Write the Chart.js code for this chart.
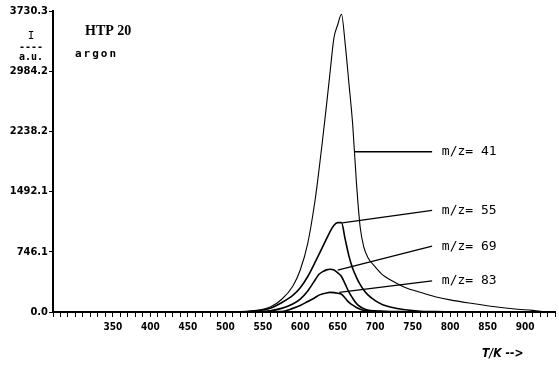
<!DOCTYPE html>
<html>
<head>
<meta charset="utf-8">
<script src="https://cdn.jsdelivr.net/npm/chart.js@4.4.1/dist/chart.umd.min.js"></script>
<style>
  html, body { margin: 0; padding: 0; background: #fff; }
  #wrap { width: 559px; height: 366px; }
</style>
</head>
<body>
<div id="wrap"><canvas id="chart" width="559" height="366"></canvas></div>
<script>
// temperature grid (K) shared by all curves
const temps = [500, 530, 560, 575, 590, 600, 610, 620, 625, 630, 635, 640, 645, 650, 655, 660, 665, 670, 675, 680, 685, 690, 700, 710, 720, 740, 760, 780, 800, 830, 860, 890, 910, 920, 930];

// intensities (a.u.)
const mz41 = [5, 10, 62, 155, 320, 520, 850, 1400, 1760, 2150, 2560, 2990, 3400, 3560, 3690, 3320, 2830, 2320, 1600, 1050, 800, 680, 560, 460, 400, 305, 245, 190, 150, 105, 65, 35, 20, 8, 0];
const mz55 = [3, 6, 46, 115, 205, 300, 440, 620, 715, 810, 905, 1000, 1075, 1108, 1108, 900, 693, 540, 430, 340, 270, 215, 140, 90, 62, 28, 10, 5, 3, 0, 0, 0, 0, 0, 0];
const mz69 = [2, 4, 16, 45, 100, 160, 260, 400, 468, 500, 522, 529, 520, 485, 440, 345, 246, 170, 105, 65, 40, 25, 14, 10, 7, 4, 2, 1, 0, 0, 0, 0, 0, 0, 0];
const mz83 = [1, 2, 3, 5, 45, 80, 130, 180, 209, 225, 236, 243, 240, 232, 220, 170, 119, 85, 55, 35, 20, 14, 8, 5, 3, 2, 1, 0, 0, 0, 0, 0, 0, 0, 0];

const yTicks = [0.0, 746.1, 1492.1, 2238.2, 2984.2, 3730.3];
const xLabels = [350, 400, 450, 500, 550, 600, 650, 700, 750, 800, 850, 900];

// label leaders: start on curve -> end at text
const labelNames = ['m/z= 41', 'm/z= 55', 'm/z= 69', 'm/z= 83'];
const leaderStart = [[673, 1986], [656, 1104], [650, 520], [652, 243]];
const leaderEnd = [[776, 1986], [776, 1259], [776, 816], [776, 385]];
const labelT = 789;

const toPoints = vals => temps.map((t, i) => ({ x: t, y: vals[i] }));

const curve = (vals, w) => ({
    data: toPoints(vals),
    borderColor: '#000',
    borderWidth: w,
    pointRadius: 0,
    cubicInterpolationMode: 'monotone',
    fill: false
});

const leaders = leaderStart.map((s, i) => ({
    data: [{ x: s[0], y: s[1] }, { x: leaderEnd[i][0], y: leaderEnd[i][1] }],
    borderColor: '#000',
    borderWidth: 1.3,
    pointRadius: 0
}));

// texts that are not axes: title, unit, labels
const textPlugin = {
    id: 'texts',
    afterDraw(chart) {
        const ctx = chart.ctx;
        const xs = chart.scales.x, ys = chart.scales.y;
        ctx.save();
        ctx.fillStyle = '#000';
        ctx.textBaseline = 'middle';

        // series labels
        ctx.font = '13px "DejaVu Sans Mono"';
        ctx.textAlign = 'left';
        labelNames.forEach((name, i) => {
            ctx.fillText(name, xs.getPixelForValue(labelT), ys.getPixelForValue(leaderEnd[i][1]));
        });

        // title
        ctx.font = 'bold 14px "Liberation Serif"';
        ctx.fillText('HTP 20', 85, 31);
        ctx.font = 'bold 11px "DejaVu Sans Mono"';
        ctx.letterSpacing = '2px';
        ctx.fillText('argon', 75, 54);
        ctx.letterSpacing = '0px';

        // unit on the y axis
        ctx.textAlign = 'center';
        ctx.font = '11px "DejaVu Sans Mono"';
        ctx.fillText('I', 31, 36);
        ctx.font = 'bold 10px "DejaVu Sans Mono"';
        ctx.fillText('----', 31, 47);
        ctx.fillText('a.u.', 31, 57);

        // axis name
        ctx.textAlign = 'left';
        ctx.font = 'bold italic 12px "DejaVu Sans Condensed"';
        ctx.fillText('T/K -->', 482, 354);
        ctx.restore();
    }
};

new Chart(document.getElementById('chart'), {
    type: 'line',
    data: {
        datasets: [curve(mz41, 1.1), curve(mz55, 1.6), curve(mz69, 1.6), curve(mz83, 1.6), ...leaders]
    },
    options: {
        responsive: false,
        animation: false,
        layout: { padding: { top: 11, right: 2, left: 0, bottom: 0 } },
        plugins: { legend: { display: false }, tooltip: { enabled: false } },
        scales: {
            x: {
                type: 'linear',
                min: 270,
                max: 940,
                afterFit: s => { s.height = 54; },
                border: { display: true, color: '#000', width: 2 },
                grid: { display: true, drawOnChartArea: false, drawTicks: true, tickLength: 5, color: '#000', lineWidth: 1 },
                ticks: {
                    stepSize: 10,
                    autoSkip: false,
                    maxRotation: 0,
                    padding: 4,
                    color: '#000',
                    font: { family: 'DejaVu Sans Condensed', size: 10, weight: 'bold' },
                    callback: v => (xLabels.includes(v) ? String(v) : '')
                }
            },
            y: {
                type: 'linear',
                min: 0,
                max: 3730.3,
                afterFit: s => { s.width = 53; },
                afterBuildTicks: s => { s.ticks = yTicks.map(v => ({ value: v })); },
                border: { display: true, color: '#000', width: 2 },
                grid: { display: true, drawOnChartArea: false, drawTicks: true, tickLength: 4, color: '#000', lineWidth: 1 },
                ticks: {
                    padding: 1,
                    color: '#000',
                    font: { family: 'DejaVu Sans Condensed', size: 11, weight: 'bold' },
                    callback: v => Number(v).toFixed(1)
                }
            }
        }
    },
    plugins: [textPlugin]
});
</script>
</body>
</html>
